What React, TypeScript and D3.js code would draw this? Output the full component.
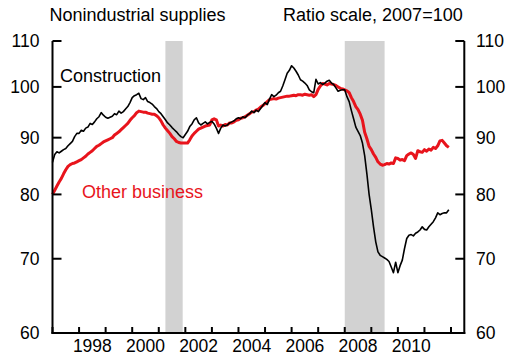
import React, { useEffect } from "react";
import * as d3 from "d3";

const START_YEAR = 1997;

const construction: number[] = [
  85.5, 86.9, 87.4, 87.2, 87.5, 87.8, 88.0, 88.5, 88.9, 89.3, 90.2, 90.8,
  90.8, 91.4, 91.2, 91.8, 92.0, 92.7, 92.5, 93.0, 93.6, 94.0, 94.8, 94.3,
  93.9, 93.7, 93.9, 94.1, 94.6, 94.4, 95.1, 94.7, 95.0, 95.5, 96.0, 96.8,
  97.8, 98.2, 98.4, 98.7, 97.6, 97.4, 97.8, 97.0, 96.8, 96.5, 96.0, 95.6,
  95.0, 94.6, 94.0, 93.4, 92.8, 92.4, 91.9, 91.5, 91.1, 90.6, 90.2, 90.0,
  90.6, 91.2, 92.1, 92.6, 93.4, 93.8, 92.8, 92.4, 92.7, 93.0, 92.6, 92.9,
  93.1, 92.6, 91.8, 90.8, 91.8, 92.4, 92.2, 92.4, 92.8, 93.0, 93.2, 93.6,
  93.8, 93.6, 94.0, 93.8, 94.3, 94.6, 95.1, 94.8, 95.3, 95.0, 95.6, 96.2,
  96.8, 96.4, 97.5, 98.4, 98.0, 98.3, 98.8, 99.1, 100.2, 101.5, 102.9, 103.5,
  104.5, 104.0, 103.3, 102.5, 101.5, 101.2, 100.8, 100.3, 99.4, 99.0, 98.8, 101.6,
  100.6, 100.9, 100.5, 100.8, 101.2, 101.4, 100.8, 100.5, 99.8, 99.1, 99.3, 99.4,
  99.4, 98.0, 97.0, 95.2, 93.6, 92.0, 91.2, 90.4, 89.0, 86.7, 83.5, 80.0,
  77.5, 74.8, 72.5, 71.0, 70.5, 70.3, 70.1, 69.9, 69.6, 68.8, 68.0, 69.5,
  68.0, 69.0, 69.8, 71.5, 73.0, 73.5, 73.6, 73.4, 73.8, 74.0, 74.3, 74.8,
  74.4, 74.3, 74.8, 75.2, 75.6, 76.2, 77.0, 76.7, 76.9, 77.0, 77.0, 77.5,
];

const otherBusiness: number[] = [
  80.0, 80.7, 81.4, 82.1, 82.7, 83.5, 84.2, 84.8, 85.1, 85.3, 85.4, 85.6,
  85.8, 86.0, 86.3, 86.6, 87.0, 87.3, 87.6, 88.0, 88.4, 88.6, 88.9, 89.2,
  89.4, 89.6, 89.8, 90.0, 90.5, 90.8, 91.1, 91.5, 91.9, 92.3, 92.7, 93.3,
  93.8, 94.2, 94.8, 95.1, 95.0, 94.9, 94.9, 94.7, 94.6, 94.5, 94.5, 94.2,
  93.8, 93.2, 92.4, 91.8, 91.3, 90.8, 90.2, 89.8, 89.3, 89.1, 89.0, 89.0,
  89.0, 89.0, 89.6, 90.3, 90.8, 91.2, 91.6, 91.8, 92.0, 92.2, 92.3, 92.4,
  93.4, 93.6, 93.4, 92.2, 92.4, 92.2, 92.5, 92.4, 92.8, 92.8, 93.0, 93.3,
  93.4, 93.7, 93.8, 94.0, 94.3, 94.6, 94.9, 95.0, 95.3, 95.5, 95.9, 96.2,
  96.6, 97.0, 97.4, 97.5, 97.6, 97.5, 97.7, 97.8, 97.9, 98.0, 98.1, 98.1,
  98.2, 98.3, 98.2, 98.4, 98.4, 98.3, 98.5, 98.4, 98.3, 98.4, 98.0, 98.4,
  99.5, 100.2, 100.7, 100.6, 100.4, 100.7, 100.6, 100.5, 100.3, 100.0, 99.7, 99.6,
  99.4, 99.2, 98.8, 97.8, 97.0, 96.0, 95.4, 94.5, 93.3, 91.0, 89.8, 88.4,
  87.8, 87.0, 86.4, 85.6, 85.2, 85.0, 85.1, 85.3, 85.2, 85.4, 85.3, 86.3,
  86.2, 85.9, 86.0, 85.8, 86.7, 87.0, 87.2, 86.9, 86.2, 87.6, 87.4, 87.3,
  87.8, 87.5, 87.9, 87.7, 88.2, 88.0, 88.5, 89.4, 89.5, 89.0, 88.5, 88.2,
];

const recessions: [number, number][] = [
  [2001.25, 2001.9],
  [2008.0, 2009.5],
];

const yTicks = [60, 70, 80, 90, 100, 110];
const xTickYears = d3.range(1997, 2013);
const xLabelYears = [1998, 2000, 2002, 2004, 2006, 2008, 2010];

const FONT = "'Liberation Sans', Arial, Helvetica, sans-serif";
const RED = "#e8141c";

export default function App() {
  useEffect(() => {
    document.body.style.margin = "0";
  }, []);

  const x = d3.scaleLinear().domain([1997, 2012.5]).range([52.5, 464.3]);
  const y = d3.scaleLog().domain([60, 110]).range([333, 41]);

  const line = d3
    .line<number>()
    .x((_, i) => x(START_YEAR + i / 12))
    .y((v) => y(v))
    .curve(d3.curveLinear);

  const left = x.range()[0];
  const right = x.range()[1];
  const bottom = y.range()[0];
  const top = y.range()[1];

  return (
    <svg
      width={516}
      height={362}
      style={{ position: "absolute", left: 0, top: 0, background: "#fff" }}
      fontFamily={FONT}
    >
      <rect x={0} y={0} width={516} height={362} fill="#fff" />
      {recessions.map(([a, b], i) => (
        <rect key={i} x={x(a)} y={top} width={x(b) - x(a)} height={bottom - top} fill="#d2d2d2" />
      ))}

      <path d={line(otherBusiness) || ""} fill="none" stroke={RED} strokeWidth={3} strokeLinejoin="round" />
      <path d={line(construction) || ""} fill="none" stroke="#000" strokeWidth={1.6} strokeLinejoin="round" />

      {/* axes */}
      <line x1={left} x2={left} y1={top} y2={bottom + 1} stroke="#000" strokeWidth={2} />
      <line x1={right} x2={right} y1={top} y2={bottom + 1} stroke="#000" strokeWidth={2} />
      <line x1={left - 1} x2={right + 1} y1={bottom} y2={bottom} stroke="#000" strokeWidth={2} />

      {yTicks.map((t) => (
        <g key={t}>
          <line x1={left} x2={left + 9} y1={y(t)} y2={y(t)} stroke="#000" strokeWidth={2} />
          <line x1={right - 9} x2={right} y1={y(t)} y2={y(t)} stroke="#000" strokeWidth={2} />
          <text x={39.5} y={y(t)} dy="0.35em" textAnchor="end" fontSize={17.5} fill="#000">
            {t}
          </text>
          <text x={476} y={y(t)} dy="0.35em" textAnchor="start" fontSize={17.5} fill="#000">
            {t}
          </text>
        </g>
      ))}

      {xTickYears.map((yr) => (
        <line key={yr} x1={x(yr)} x2={x(yr)} y1={bottom} y2={bottom - 6} stroke="#000" strokeWidth={2} />
      ))}
      {xLabelYears.map((yr) => (
        <text key={yr} x={x(yr + 0.5)} y={351.7} textAnchor="middle" fontSize={17.5} fill="#000">
          {yr}
        </text>
      ))}

      <text x={49.5} y={20.7} fontSize={18} fill="#000">
        Nonindustrial supplies
      </text>
      <text x={462.7} y={20.7} fontSize={18} textAnchor="end" fill="#000">
        Ratio scale, 2007=100
      </text>
      <text x={60} y={82} fontSize={18} fill="#000">
        Construction
      </text>
      <text x={82} y={198} fontSize={18} fill={RED}>
        Other business
      </text>
    </svg>
  );
}
